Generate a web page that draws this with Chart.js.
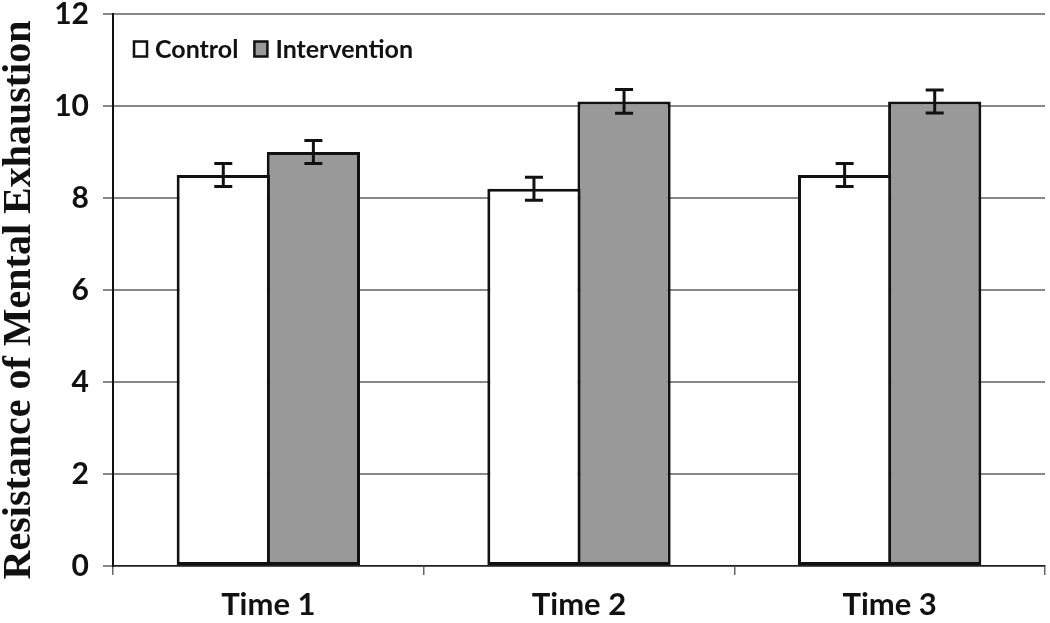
<!DOCTYPE html>
<html><head><meta charset="utf-8">
<script src="https://cdn.jsdelivr.net/npm/chart.js@4/dist/chart.umd.min.js"></script>
<style>html,body{margin:0;padding:0;background:#fff}#wrap{width:1050px;height:623px}</style>
</head><body><div id="wrap"><canvas id="c" width="1050" height="623"></canvas></div>
<script>
const categories = ['Time 1', 'Time 2', 'Time 3'];
const controlValues = [8.5, 8.2, 8.5];
const interventionValues = [9.0, 10.1, 10.1];
const controlErrors = [0.25, 0.25, 0.25];
const interventionErrors = [0.25, 0.26, 0.25];
const seriesNames = ['Control', 'Intervention'];
const yMin = 0, yMax = 12, yStep = 2;
const yTitle = 'Resistance of Mental Exhaustion';

const errorBars = {
  id: 'errorBars',
  afterDatasetsDraw(chart) {
    const ctx = chart.ctx, ys = chart.scales.y;
    chart.data.datasets.forEach((ds, di) => {
      const meta = chart.getDatasetMeta(di);
      meta.data.forEach((bar, i) => {
        const v = ds.data[i], e = ds.errors[i];
        const yt = ys.getPixelForValue(v + e), yb = ys.getPixelForValue(v - e);
        ctx.save();
        ctx.strokeStyle = '#111'; ctx.lineWidth = 3; ctx.lineCap = 'butt';
        ctx.beginPath();
        ctx.moveTo(bar.x, yt); ctx.lineTo(bar.x, yb);
        ctx.moveTo(bar.x - 9, yt); ctx.lineTo(bar.x + 9, yt);
        ctx.moveTo(bar.x - 9, yb); ctx.lineTo(bar.x + 9, yb);
        ctx.stroke();
        ctx.restore();
      });
    });
  }
};

const customLegendAndTitle = {
  id: 'customLegendAndTitle',
  afterDraw(chart) {
    const ctx = chart.ctx, area = chart.chartArea;
    let x = area.left + 20, y = area.top + 35;
    ctx.save();
    ctx.font = 'bold 25px Lato';
    ctx.textBaseline = 'middle';
    chart.data.datasets.forEach(ds => {
      ctx.fillStyle = ds.backgroundColor;
      ctx.fillRect(x + 1, y - 7.5, 13, 15);
      ctx.strokeStyle = '#111'; ctx.lineWidth = 2.5;
      ctx.strokeRect(x + 1, y - 7.5, 13, 15);
      ctx.fillStyle = '#111';
      ctx.fillText(ds.label, x + 22, y + 1);
      x += 22 + ctx.measureText(ds.label).width + 15;
    });
    ctx.translate(20, (area.top + area.bottom) / 2 + 10);
    ctx.rotate(-Math.PI / 2);
    ctx.font = 'bold 40px "Liberation Serif"';
    ctx.textAlign = 'center';
    ctx.textBaseline = 'middle';
    ctx.fillStyle = '#111';
    ctx.fillText(yTitle, 0, 0);
    ctx.restore();
  }
};

new Chart(document.getElementById('c'), {
  type: 'bar',
  data: {
    labels: categories,
    datasets: [
      { label: seriesNames[0], data: controlValues, errors: controlErrors, backgroundColor: '#ffffff', borderColor: '#111', borderWidth: 3, borderSkipped: false },
      { label: seriesNames[1], data: interventionValues, errors: interventionErrors, backgroundColor: '#999999', borderColor: '#111', borderWidth: 3, borderSkipped: false }
    ]
  },
  options: {
    responsive: false, animation: false, devicePixelRatio: 1,
    layout: { padding: { top: 0, right: 5, left: 0, bottom: 0 } },
    plugins: { legend: { display: false }, tooltip: { enabled: false } },
    datasets: { bar: { categoryPercentage: 0.58, barPercentage: 1.035 } },
    scales: {
      x: {
        grid: { offset: true, drawOnChartArea: false, tickLength: 9, color: '#666', lineWidth: 1.5 },
        border: { color: '#222', width: 1.5 },
        ticks: { font: { family: 'Lato', weight: 'bold', size: 31 }, color: '#111', padding: 11 },
        afterFit(s) { s.height = 57; s.paddingLeft = 0; s.paddingRight = 0; }
      },
      y: {
        min: yMin, max: yMax,
        ticks: { stepSize: yStep, font: { family: 'Lato', weight: 'bold', size: 30, lineHeight: 0.95 }, color: '#111', padding: 14 },
        grid: { color: '#888', lineWidth: 2, tickLength: 10 },
        border: { color: '#111', width: 2 },
        afterFit(s) { s.width = 113; s.paddingTop = 14; s.paddingBottom = 0; }
      }
    }
  },
  plugins: [errorBars, customLegendAndTitle]
});
</script></body></html>
